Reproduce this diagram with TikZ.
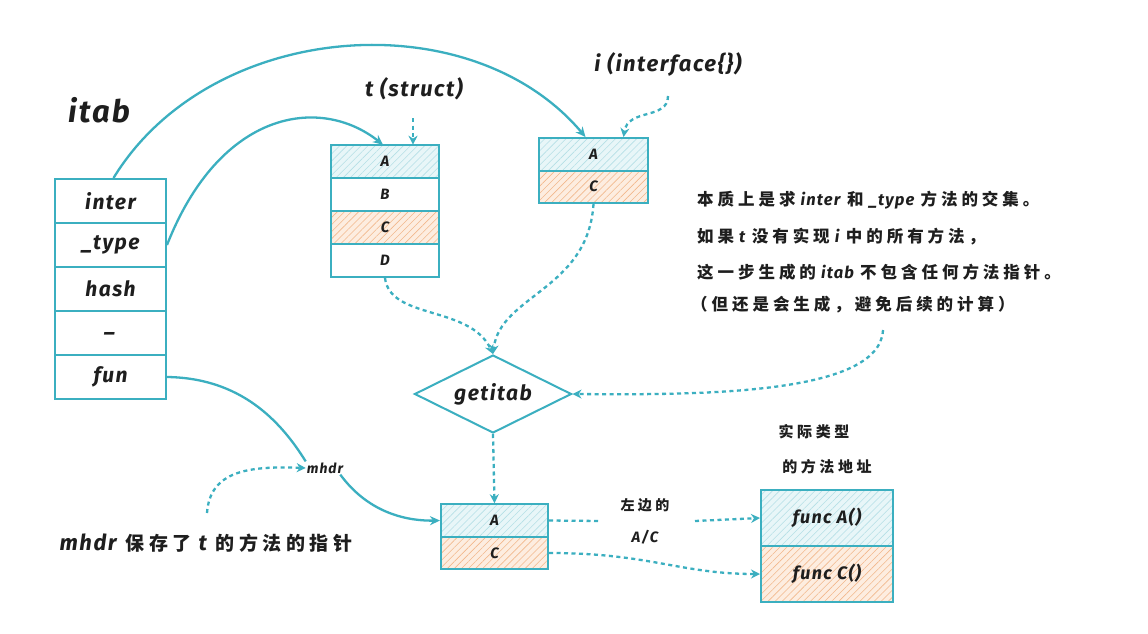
\documentclass[tikz,border=0pt]{standalone}
\usepackage{fontspec}
\setmainfont[LetterSpace=7]{Fira Sans}
\newfontfamily\zhfont[LetterSpace=24]{Noto Sans CJK SC}
\usetikzlibrary{shapes.geometric,arrows.meta,patterns.meta}
\definecolor{tl}{HTML}{3BAFC0}
\definecolor{txt}{HTML}{1E1E1E}
\definecolor{bbg}{HTML}{E8F6F8}
\definecolor{bln}{HTML}{B5DFE6}
\definecolor{obg}{HTML}{FDEDE0}
\definecolor{oln}{HTML}{F2B88C}
\tikzset{
  cell/.style={draw=tl, line width=2pt, inner sep=0pt, text=txt, fill=white},
  bluecell/.style={cell, preaction={fill=bbg}, pattern={Lines[angle=45,distance=5pt,line width=0.6pt]}, pattern color=bln},
  orcell/.style={cell, preaction={fill=obg}, pattern={Lines[angle=45,distance=5pt,line width=0.6pt]}, pattern color=oln},
  lab/.style={text=txt, inner sep=1pt},
  conn/.style={draw=tl, line width=2.3pt, -{Stealth[length=10pt,width=9pt]}},
  link/.style={draw=tl, line width=2.3pt},
  dots/.style={draw=tl, line width=2.3pt, dash pattern=on 4pt off 3.5pt, -{Stealth[length=9pt,width=9pt]}},
  dotsn/.style={draw=tl, line width=2.3pt, dash pattern=on 4pt off 3.5pt},
}
\begin{document}
\begin{tikzpicture}[x=1pt,y=-1pt]
\useasboundingbox[fill=white] (0,0) rectangle (1148,634);

% itab title
\node[lab, font=\fontsize{31}{34}\selectfont\bfseries\itshape] (title) at (99,110) {itab};

% itab struct
\begin{scope}[every node/.style={cell, minimum width=111pt, minimum height=44pt, font=\fontsize{21}{24}\selectfont\bfseries\itshape}]
\node (inter) at (110.5,201) {inter};
\node (type) at (110.5,245) {\_type};
\node (hash) at (110.5,289) {hash};
\node (blank) at (110.5,333) {\_};
\node (fun) at (110.5,377) {fun};
\end{scope}

% t struct
\node[lab, font=\fontsize{22}{26}\selectfont\bfseries\itshape] (tlab) at (414,89) {t (struct)};
\begin{scope}[every node/.style={minimum width=108pt, minimum height=33pt, font=\fontsize{15}{17}\selectfont\bfseries\itshape}]
\node[bluecell] (tA) at (385,161.5) {A};
\node[cell] (tB) at (385,194.5) {B};
\node[orcell] (tC) at (385,227.5) {C};
\node[cell] (tD) at (385,260.5) {D};
\end{scope}

% i interface
\node[lab, font=\fontsize{22}{26}\selectfont\bfseries\itshape] (ilab) at (668,64) {i (interface\{\})};
\begin{scope}[every node/.style={minimum width=109pt, minimum height=32.5pt, font=\fontsize{15}{17}\selectfont\bfseries\itshape}]
\node[bluecell] (iA) at (593.5,154.25) {A};
\node[orcell] (iC) at (593.5,186.75) {C};
\end{scope}

% note
\begin{scope}[every node/.style={lab, anchor=west, font=\fontsize{16.5}{19}\selectfont\bfseries}]
\node (n1) at (696,200) {{\zhfont 本质上是求} \textit{inter} {\zhfont 和} \textit{\_type} {\zhfont 方法的交集。}};
\node (n2) at (696,237) {{\zhfont 如果} \textit{t} {\zhfont 没有实现} \textit{i} {\zhfont 中的所有方法，}};
\node (n3) at (696,272) {{\zhfont 这一步生成的} \textit{itab} {\zhfont 不包含任何方法指针。}};
\node (n4) at (690,305) {{\zhfont （但还是会生成，避免后续的计算）}};
\end{scope}

% getitab
\node[diamond, draw=tl, line width=2pt, fill=white, inner sep=0pt, minimum width=157pt, minimum height=78pt,
  label={[text=txt, inner sep=0pt, font=\fontsize{21}{24}\selectfont\bfseries\itshape]center:getitab}] (get) at (493,394) {};

% result cells
\begin{scope}[every node/.style={minimum width=107pt, minimum height=32.5pt, font=\fontsize{15}{17}\selectfont\bfseries\itshape}]
\node[bluecell] (bA) at (494.5,520.5) {A};
\node[orcell] (bC) at (494.5,553) {C};
\end{scope}

% func cells
\begin{scope}[every node/.style={minimum width=132pt, minimum height=56pt, font=\fontsize{18}{21}\selectfont\bfseries\itshape}]
\node[bluecell] (fA) at (827,518) {func A()};
\node[orcell] (fC) at (827,574) {func C()};
\end{scope}
\node[lab, font=\fontsize{15}{18}\selectfont\zhfont\bfseries] (r1) at (814,432) {实际类型};
\node[lab, font=\fontsize{15}{18}\selectfont\zhfont\bfseries] (r2) at (827,467) {的方法地址};

% labels
\node[lab, font=\fontsize{14}{16}\selectfont\bfseries\itshape] (mhdr) at (325,468) {mhdr};
\node[lab, font=\fontsize{22}{25}\selectfont\bfseries] (mnote) at (206,543) {\textit{mhdr} {\zhfont\fontsize{19}{22}\selectfont 保存了} \textit{t} {\zhfont\fontsize{19}{22}\selectfont 的方法的指针}};
\node[lab, font=\fontsize{14}{16}\selectfont\zhfont\bfseries] (l1) at (645,505) {左边的};
\node[lab, font=\fontsize{15}{17}\selectfont\bfseries\itshape] (l2) at (645,537) {A/C};

% helper coordinates
\coordinate (ts) at (413,118);
\coordinate (is) at (668,96);
\coordinate (ns) at (883,330);
\coordinate (ms) at (207,513);
\coordinate (g1) at (600,521);
\coordinate (g2) at (695,521);

% solid connectors
\draw[conn] ([xshift=3pt]inter.north) .. controls (210,20) and (470,0) .. ([xshift=-8pt]iA.north);
\draw[conn] (type.east) .. controls (220,110) and (320,95) .. ([xshift=-2pt]tA.north);
\draw[link] (fun.east) .. controls (240,378) and (280,420) .. (mhdr.north west);
\draw[conn] ([xshift=-4pt]mhdr.south east) .. controls (370,515) and (410,521) .. (bA.west);

% dotted connectors
\draw[dots] (ts) -- ([xshift=28pt]tA.north);
\draw[dots] (is) .. controls (668,120) and (628,108) .. ([xshift=30pt]iA.north);
\draw[dots] (tD.south) .. controls (390,320) and (470,305) .. (get.north);
\draw[dots] (iC.south) .. controls (588,290) and (500,295) .. (get.north);
\draw[dots] (ns) .. controls (880,395) and (700,395) .. (get.east);
\draw[dots] (get.south) -- (bA.north);
\draw[dots] (ms) .. controls (210,470) and (250,466) .. (mhdr.west);
\draw[dotsn] (bA.east) -- (g1);
\draw[dots] (g2) -- (fA.west);
\draw[dots] (bC.east) .. controls (650,553) and (680,574) .. (fC.west);
\end{tikzpicture}
\end{document}
